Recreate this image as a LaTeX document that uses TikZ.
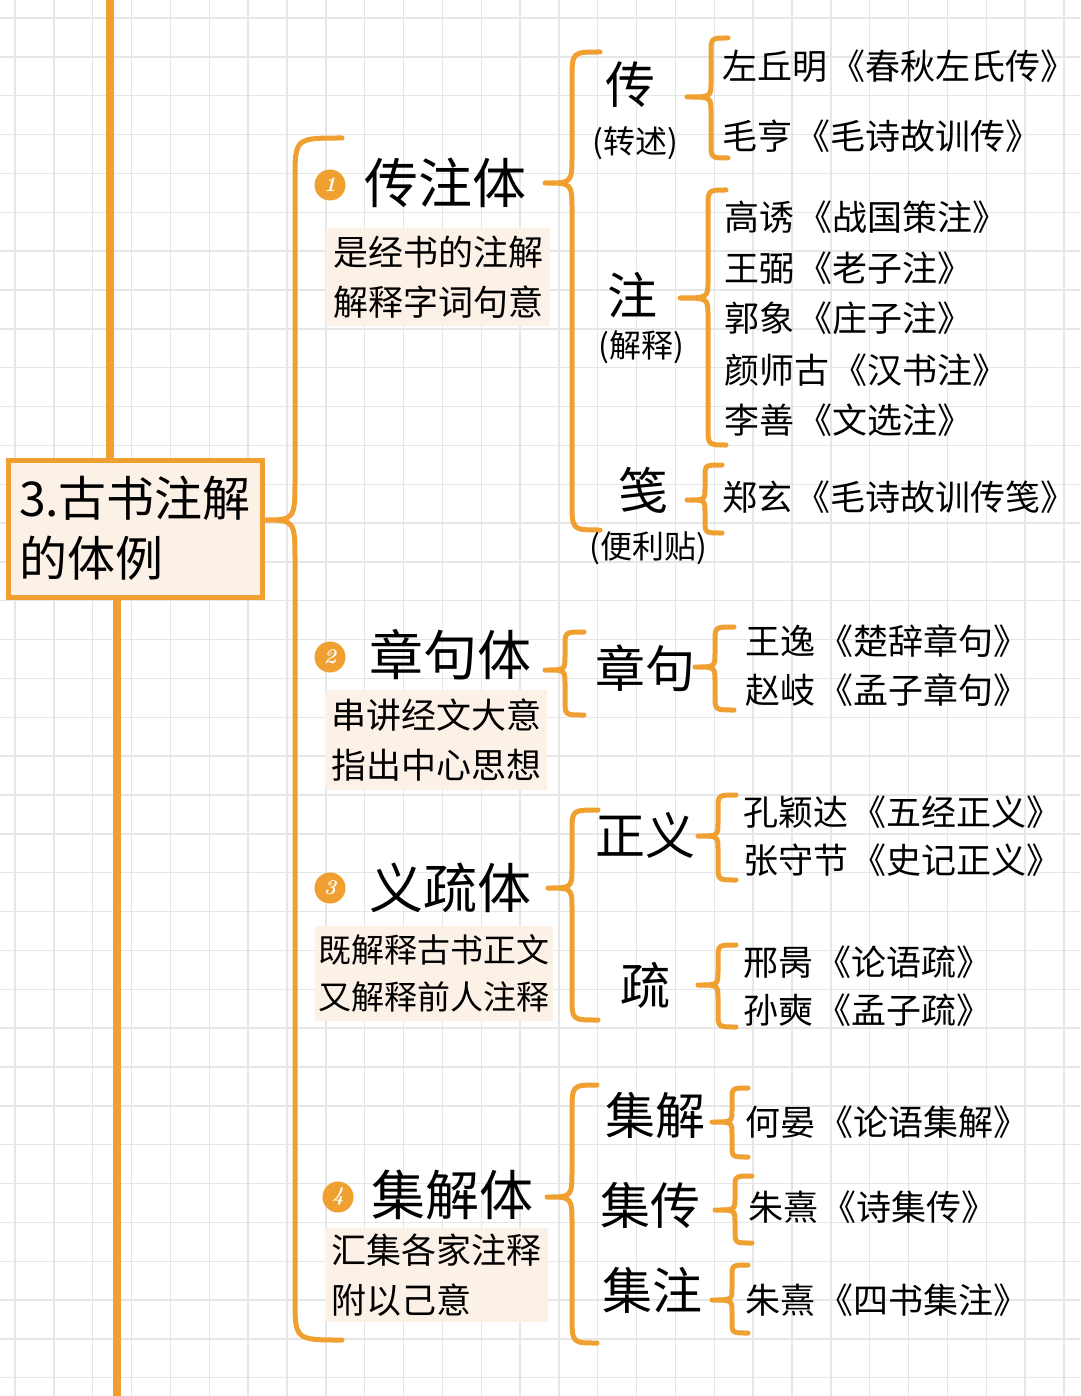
\documentclass[tikz,border=0pt]{standalone}
\usepackage{fontspec}
\newfontfamily\cjk{Noto Sans CJK SC}
\definecolor{org}{HTML}{F0A030}
\definecolor{cream}{HTML}{FCF1E6}
\definecolor{gridc}{HTML}{E6E6E6}
\newcommand\fs[2]{\fontsize{#1}{#2}\selectfont}
\newcommand\bk[2]{#1\hspace{0.08em}《#2》}
% #1 vertical x, #2 ytop, #3 ymid, #4 ybot, #5 tip x, #6 end x, #7 radius
\newcommand\brc[7]{\draw[brc] (#6,#2) .. controls (#1,#2) .. (#1,{#2+#7}) -- (#1,{#3-#7}) .. controls (#1,#3) .. (#5,#3) .. controls (#1,#3) .. (#1,{#3+#7}) -- (#1,{#4-#7}) .. controls (#1,#4) .. (#6,#4);}
\tikzset{
  brc/.style={draw=org, line width=5pt, line cap=round, line join=round},
  mainline/.style={draw=org, line width=8pt},
  gridline/.style={draw=gridc, line width=1.4pt},
  rootbox/.style={draw=org, fill=cream, line width=5pt, minimum width=254pt, minimum height=137pt, align=left, inner sep=0pt, font=\cjk\fs{48}{60}},
  numc/.style={circle, fill=org, minimum size=31pt, inner sep=0pt, text=white, font=\fs{21}{21}\bfseries},
  head/.style={inner sep=0pt, font=\cjk\fs{54}{54}},
  sub/.style={inner sep=0pt, font=\cjk\fs{50}{50}},
  note/.style={inner sep=0pt, font=\cjk\fs{32}{32}},
  desc/.style={fill=cream, align=left, inner sep=0pt, font=\cjk\fs{35}{50}},
  item/.style={anchor=west, inner sep=0pt, font=\cjk\fs{35}{35}}
}
\begin{document}
\begin{tikzpicture}[x=1pt,y=-1pt]
\fill[white] (0,0) rectangle (1080,1396);
\useasboundingbox (0,0) rectangle (1080,1396);
% grid
\foreach \i in {0,...,27} \draw[gridline] ({15+38.85*\i},0) -- ({15+38.85*\i},1396);
\foreach \j in {0,...,35} \draw[gridline] (0,{18+38.85*\j}) -- (1080,{18+38.85*\j});

% root
\node[rootbox] (root) at (135,528.5) {3.古书注解\\的体例};
\coordinate (top) at (110,0);
\coordinate (bot) at (117,1396);
\draw[mainline] (top) -- (top |- root.north);
\draw[mainline] (bot) -- (bot |- root.south);

% big brace
\brc{295}{138}{520}{1340}{263}{342}{42}

% ---------- 1 传注体
\node[numc] (n1) at (330,185) {\itshape 1};
\node[head] (h1) at (445,183) {传注体};
\node[desc, minimum width=224pt, minimum height=98pt] (d1) at (438,277) {是经书的注解\\解释字词句意};
\brc{572}{52}{183}{530}{545}{600}{28}

\node[sub] (s11) at (630,85) {传};
\node[note] (s11n) at (635,143) {(转述)};
\brc{711}{38}{97}{158}{687}{728}{15}
\node[item] (i111) at (722,66) {\bk{左丘明}{春秋左氏传}};
\node[item] (i112) at (722,136) {\bk{毛亨}{毛诗故训传}};

\node[sub] (s12) at (632,295) {注};
\node[note] (s12n) at (641,347) {(解释)};
\brc{708}{190}{298}{445}{680}{726}{18}
\node[item] (i121) at (724,217) {\bk{高诱}{战国策注}};
\node[item] (i122) at (724,268) {\bk{王弼}{老子注}};
\node[item] (i123) at (724,318) {\bk{郭象}{庄子注}};
\node[item] (i124) at (724,370) {\bk{颜师古}{汉书注}};
\node[item] (i125) at (724,420) {\bk{李善}{文选注}};

\node[sub] (s13) at (643,490) {笺};
\node[note] (s13n) at (648,548) {(便利贴)};
\brc{705}{465}{500}{533}{687}{722}{12}
\node[item] (i131) at (722,497) {\bk{郑玄}{毛诗故训传笺}};

% ---------- 2 章句体
\node[numc] (n2) at (330,657) {\itshape 2};
\node[head] (h2) at (450,655) {章句体};
\node[desc, minimum width=222pt, minimum height=100pt] (d2) at (436,740) {串讲经文大意\\指出中心思想};
\brc{565}{632}{670}{715}{545}{584}{14}
\node[sub] (s21) at (645,668) {章句};
\brc{715}{627}{667}{710}{695}{734}{14}
\node[item] (i211) at (745,641) {\bk{王逸}{楚辞章句}};
\node[item] (i212) at (745,690) {\bk{赵岐}{孟子章句}};

% ---------- 3 义疏体
\node[numc] (n3) at (330,888) {\itshape 3};
\node[head] (h3) at (450,888) {义疏体};
\node[desc, minimum width=238pt, minimum height=95pt, font=\cjk\fs{33}{47}] (d3) at (434,973) {既解释古书正文\\又解释前人注释};
\brc{572}{810}{888}{1020}{548}{598}{22}
\node[sub] (s31) at (645,835) {正义};
\brc{718}{795}{836}{880}{698}{736}{14}
\node[item] (i311) at (743,812) {\bk{孔颖达}{五经正义}};
\node[item] (i312) at (743,860) {\bk{张守节}{史记正义}};
\node[sub] (s32) at (645,985) {疏};
\brc{718}{945}{985}{1027}{698}{736}{14}
\node[item] (i321) at (743,962) {\bk{邢昺}{论语疏}};
\node[item] (i322) at (743,1010) {\bk{孙奭}{孟子疏}};

% ---------- 4 集解体
\node[numc] (n4) at (338,1197) {\itshape 4};
\node[head] (h4) at (452,1195) {集解体};
\node[desc, minimum width=223pt, minimum height=94pt] (d4) at (436,1275) {汇集各家注释\\附以己意\hphantom{注释}};
\brc{572}{1085}{1197}{1343}{547}{597}{28}
\node[sub] (s41) at (655,1115) {集解};
\brc{732}{1088}{1122}{1157}{712}{748}{12}
\node[item] (i411) at (745,1122) {\bk{何晏}{论语集解}};
\node[sub] (s42) at (650,1205) {集传};
\brc{735}{1176}{1210}{1243}{715}{752}{12}
\node[item] (i421) at (748,1207) {\bk{朱熹}{诗集传}};
\node[sub] (s43) at (652,1290) {集注};
\brc{732}{1265}{1300}{1333}{712}{748}{12}
\node[item] (i431) at (745,1300) {\bk{朱熹}{四书集注}};
\end{tikzpicture}
\end{document}
